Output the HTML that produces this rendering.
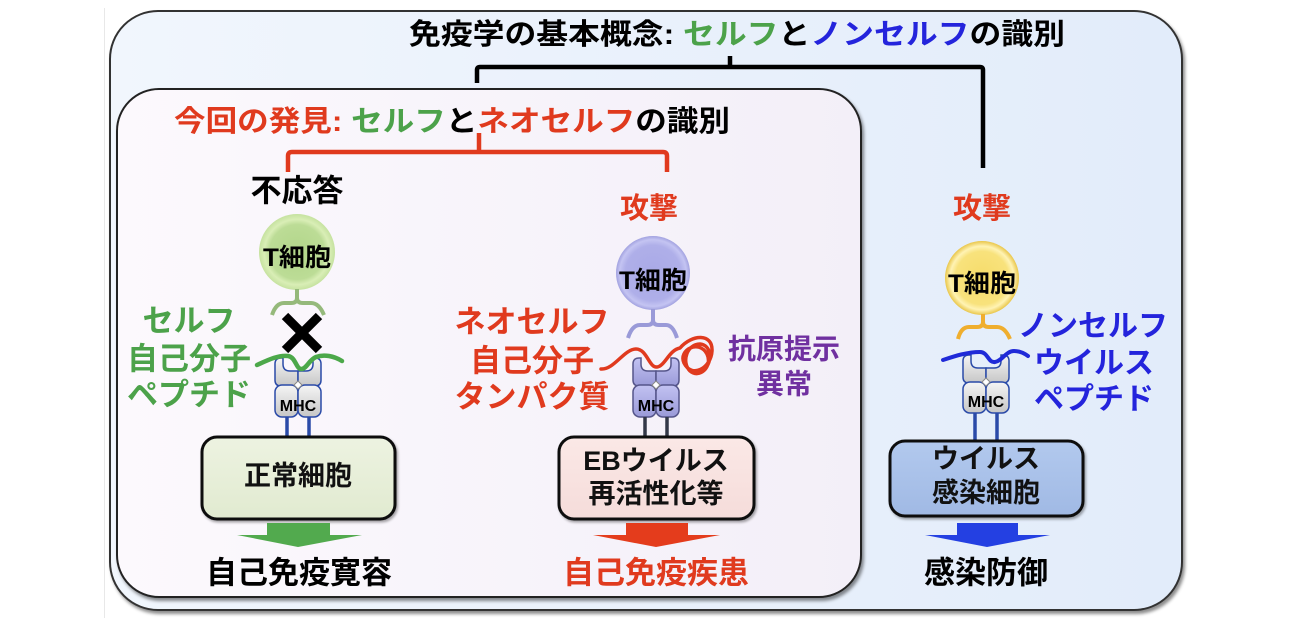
<!DOCTYPE html>
<html><head><meta charset="utf-8">
<style>
html,body{margin:0;padding:0;background:#fff;}
svg{display:block;}
text{font-family:"Liberation Sans","Noto Sans CJK JP",sans-serif;font-weight:bold;}
</style></head>
<body>
<svg width="1300" height="628" viewBox="0 0 1300 628" xmlns="http://www.w3.org/2000/svg">
<defs>
  <linearGradient id="outerG" x1="0" y1="0" x2="1" y2="0">
    <stop offset="0" stop-color="#f1f6fd"/>
    <stop offset="1" stop-color="#e2ecfa"/>
  </linearGradient>
  <linearGradient id="innerG" x1="0" y1="0" x2="1" y2="0">
    <stop offset="0" stop-color="#fcf9fd"/>
    <stop offset="1" stop-color="#f3eff8"/>
  </linearGradient>
  <radialGradient id="gG" cx="0.5" cy="0.5" r="0.5">
    <stop offset="0" stop-color="#b2d68a"/>
    <stop offset="0.72" stop-color="#bcdc96"/>
    <stop offset="0.86" stop-color="#d9eeb6"/>
    <stop offset="1" stop-color="#c6e2a0"/>
  </radialGradient>
  <radialGradient id="pG" cx="0.5" cy="0.5" r="0.5">
    <stop offset="0" stop-color="#a9a9e6"/>
    <stop offset="0.75" stop-color="#afafe9"/>
    <stop offset="0.9" stop-color="#c4c4f2"/>
    <stop offset="1" stop-color="#a2a2e0"/>
  </radialGradient>
  <radialGradient id="yG" cx="0.5" cy="0.5" r="0.5">
    <stop offset="0" stop-color="#f6dc6a"/>
    <stop offset="0.72" stop-color="#f8e27c"/>
    <stop offset="0.86" stop-color="#fff3b4"/>
    <stop offset="1" stop-color="#e9c64a"/>
  </radialGradient>
  <linearGradient id="mhcGray" x1="0" y1="0" x2="0" y2="1">
    <stop offset="0" stop-color="#f5f5f5"/>
    <stop offset="1" stop-color="#c6c6c6"/>
  </linearGradient>
  <linearGradient id="mhcPur" x1="0" y1="0" x2="0" y2="1">
    <stop offset="0" stop-color="#c2c2f2"/>
    <stop offset="1" stop-color="#9a9ad8"/>
  </linearGradient>
  <linearGradient id="boxG" x1="0" y1="0" x2="0" y2="1">
    <stop offset="0" stop-color="#edf3e1"/>
    <stop offset="1" stop-color="#e1ead0"/>
  </linearGradient>
  <linearGradient id="boxR" x1="0" y1="0" x2="0" y2="1">
    <stop offset="0" stop-color="#fbe8e6"/>
    <stop offset="1" stop-color="#f5dcda"/>
  </linearGradient>
  <linearGradient id="boxB" x1="0" y1="0" x2="0" y2="1">
    <stop offset="0" stop-color="#b2c9ee"/>
    <stop offset="1" stop-color="#a0b9e4"/>
  </linearGradient>
  <filter id="sh" x="-10%" y="-10%" width="120%" height="120%">
    <feDropShadow dx="2" dy="3" stdDeviation="1.5" flood-color="#000" flood-opacity="0.45"/>
  </filter>
  <filter id="shs" x="-10%" y="-10%" width="120%" height="120%">
    <feDropShadow dx="1.5" dy="2" stdDeviation="1.2" flood-color="#000" flood-opacity="0.35"/>
  </filter>
</defs>

<line x1="104.5" y1="8" x2="104.5" y2="618" stroke="#e8e8e8" stroke-width="1"/>

<rect x="110" y="11" width="1072" height="599" rx="48" fill="url(#outerG)" stroke="#333" stroke-width="2" filter="url(#sh)"/>
<rect x="117" y="89" width="744" height="508" rx="42" fill="url(#innerG)" stroke="#222" stroke-width="2" filter="url(#sh)"/>

<text x="409" y="44" font-size="29" textLength="656" lengthAdjust="spacingAndGlyphs" fill="#000">免疫学の基本概念: <tspan fill="#4ca24a">セルフ</tspan>と<tspan fill="#2424dc">ノンセルフ</tspan>の識別</text>

<path d="M477 83 L477 70 Q477 67 480 67 L980 67 Q983 67 983 70 L983 168" fill="none" stroke="#000" stroke-width="4.5"/>
<line x1="730" y1="56" x2="730" y2="67" stroke="#000" stroke-width="4.5"/>

<text x="174" y="131" font-size="29" textLength="556" lengthAdjust="spacingAndGlyphs" fill="#e03a1e">今回の発見: <tspan fill="#4ca24a">セルフ</tspan><tspan fill="#000">と</tspan>ネオセルフ<tspan fill="#000">の識別</tspan></text>

<path d="M288 172 L288 156 Q288 152 292 152 L663 152 Q667 152 667 156 L667 172" fill="none" stroke="#e03a1e" stroke-width="4.5"/>
<line x1="479" y1="133" x2="479" y2="152" stroke="#e03a1e" stroke-width="4.5"/>

<text x="297" y="201.5" font-size="31" text-anchor="middle" fill="#000">不応答</text>
<text x="649" y="218" font-size="29" text-anchor="middle" fill="#e03a1e">攻撃</text>
<text x="982" y="218" font-size="29" text-anchor="middle" fill="#e03a1e">攻撃</text>

<circle cx="297" cy="252" r="38" fill="url(#gG)"/>
<text x="297" y="266" font-size="25" text-anchor="middle" textLength="68" lengthAdjust="spacingAndGlyphs" fill="#000">T細胞</text>
<circle cx="653" cy="273" r="37" fill="url(#pG)"/>
<text x="653" y="289" font-size="25" text-anchor="middle" textLength="68" lengthAdjust="spacingAndGlyphs" fill="#000">T細胞</text>
<circle cx="982" cy="278" r="37" fill="url(#yG)"/>
<text x="982" y="292" font-size="25" text-anchor="middle" textLength="68" lengthAdjust="spacingAndGlyphs" fill="#000">T細胞</text>

<path d="M297 289 L297 298 Q297 303 291 303 L284 303 Q276 303 272 315 M297 298 Q297 303 303 303 L311 303 Q319 303 324 315" fill="none" stroke="#95b97b" stroke-width="4"/>
<path d="M653 309 L653 320 Q653 325 647 325 L640 325 Q632 325 628 338 M653 320 Q653 325 659 325 L666 325 Q673 325 677 338" fill="none" stroke="#9a9ad8" stroke-width="4"/>
<path d="M983 314 L983 322 Q983 327 977 327 L969 327 Q961 327 958 339 M983 322 Q983 327 989 327 L997 327 Q1005 327 1010 339" fill="none" stroke="#efae2e" stroke-width="4"/>

<g stroke="#000" stroke-width="9" stroke-linecap="butt">
  <line x1="285" y1="316" x2="319" y2="350"/>
  <line x1="319" y1="316" x2="285" y2="350"/>
</g>

<g transform="translate(298,358)" stroke="#2a4aa8" stroke-width="1.5" fill="url(#mhcGray)">
  <path d="M-23 6 Q-23 0 -17 0 L-15 0 L-15 6 Q-15 13 -8 13 L0 13 L0 28 L-17 28 Q-23 28 -23 22 Z"/>
  <path d="M23 6 Q23 0 17 0 L15 0 L15 6 Q15 13 8 13 L0 13 L0 28 L17 28 Q23 28 23 22 Z"/>
  <rect x="-23" y="27" width="23" height="32" rx="7"/>
  <rect x="0" y="27" width="23" height="32" rx="7"/>
  <polygon points="0,23 4,27 0,31 -4,27" fill="#fff" stroke="#888" stroke-width="1"/>
  <text x="0" y="53" font-size="16" text-anchor="middle" fill="#000" stroke="none">MHC</text>
</g>
<line x1="287" y1="417" x2="287" y2="438" stroke="#2a4aa8" stroke-width="3.5"/>
<line x1="309" y1="417" x2="309" y2="438" stroke="#2a4aa8" stroke-width="3.5"/>

<g transform="translate(656,358)" stroke="#55558a" stroke-width="1.5" fill="url(#mhcPur)">
  <path d="M-23 6 Q-23 0 -17 0 L-15 0 L-15 6 Q-15 13 -8 13 L0 13 L0 28 L-17 28 Q-23 28 -23 22 Z"/>
  <path d="M23 6 Q23 0 17 0 L15 0 L15 6 Q15 13 8 13 L0 13 L0 28 L17 28 Q23 28 23 22 Z"/>
  <rect x="-23" y="27" width="23" height="32" rx="7"/>
  <rect x="0" y="27" width="23" height="32" rx="7"/>
  <polygon points="0,23 4,27 0,31 -4,27" fill="#fff" stroke="#888" stroke-width="1"/>
  <text x="0" y="53" font-size="16" text-anchor="middle" fill="#000" stroke="none">MHC</text>
</g>
<line x1="645" y1="417" x2="645" y2="438" stroke="#333848" stroke-width="3.5"/>
<line x1="667" y1="417" x2="667" y2="438" stroke="#333848" stroke-width="3.5"/>

<g transform="translate(986,355)" stroke="#2a4aa8" stroke-width="1.5" fill="url(#mhcGray)">
  <path d="M-23 6 Q-23 0 -17 0 L-15 0 L-15 6 Q-15 13 -8 13 L0 13 L0 28 L-17 28 Q-23 28 -23 22 Z"/>
  <path d="M23 6 Q23 0 17 0 L15 0 L15 6 Q15 13 8 13 L0 13 L0 28 L17 28 Q23 28 23 22 Z"/>
  <rect x="-23" y="27" width="23" height="31" rx="7"/>
  <rect x="0" y="27" width="23" height="31" rx="7"/>
  <polygon points="0,23 4,27 0,31 -4,27" fill="#fff" stroke="#888" stroke-width="1"/>
  <text x="0" y="52" font-size="16" text-anchor="middle" fill="#000" stroke="none">MHC</text>
</g>
<line x1="975" y1="413" x2="975" y2="442" stroke="#2a4aa8" stroke-width="3.5"/>
<line x1="997" y1="413" x2="997" y2="442" stroke="#2a4aa8" stroke-width="3.5"/>

<path d="M257 365 C268 360 278 355 288 356 C296 357 296 370 302 369 C307 368 309 360 316 357 C324 354 334 356 342 361" fill="none" stroke="#4ca84a" stroke-width="4.5" stroke-linecap="round"/>
<path d="M601 369 C614 370 624 349 636 349 C647 349 649 368 657 367 C665 366 669 350 680 348 C692 334 713 333 712 351 C711 368 692 379 684 363 C678 350 699 339 707 354 C713 367 699 379 690 371 C681 362 687 344 700 344 C711 345 713 360 705 369" fill="none" stroke="#e03a1e" stroke-width="3.5" stroke-linecap="round" stroke-linejoin="round"/>
<path d="M943 360 C955 356 967 352 980 352 C988 352 988 363 995 362 C1002 361 1006 351 1014 351 C1020 351 1024 353 1028 356" fill="none" stroke="#1f2ad8" stroke-width="4" stroke-linecap="round"/>

<g font-size="31" text-anchor="middle" fill="#4ca24a">
  <text x="189" y="331.5">セルフ</text>
  <text x="189" y="369.5">自己分子</text>
  <text x="189" y="405.5">ペプチド</text>
</g>
<g font-size="31" text-anchor="middle" fill="#e03a1e">
  <text x="532" y="332.5">ネオセルフ</text>
  <text x="532" y="371.5">自己分子</text>
  <text x="532" y="407.5">タンパク質</text>
</g>
<g font-size="28" text-anchor="middle" fill="#7030a0">
  <text x="784" y="358.5">抗原提示</text>
  <text x="784" y="393.5">異常</text>
</g>
<g font-size="30" text-anchor="middle" fill="#2424dc">
  <text x="1093" y="336">ノンセルフ</text>
  <text x="1094" y="373">ウイルス</text>
  <text x="1094" y="409">ペプチド</text>
</g>

<rect x="202" y="437" width="193" height="82" rx="15" fill="url(#boxG)" stroke="#111" stroke-width="3" filter="url(#shs)"/>
<text x="298" y="485" font-size="27" text-anchor="middle" fill="#111">正常細胞</text>

<rect x="559" y="437" width="195" height="82" rx="15" fill="url(#boxR)" stroke="#111" stroke-width="3" filter="url(#shs)"/>
<text x="656" y="470" font-size="27" text-anchor="middle" fill="#111">EBウイルス</text>
<text x="656" y="503" font-size="27" text-anchor="middle" fill="#111">再活性化等</text>

<rect x="890" y="441" width="193" height="75" rx="15" fill="url(#boxB)" stroke="#111" stroke-width="3" filter="url(#shs)"/>
<text x="986" y="468" font-size="27" text-anchor="middle" fill="#111">ウイルス</text>
<text x="986" y="502" font-size="27" text-anchor="middle" fill="#111">感染細胞</text>

<polygon points="267,523 330,523 330,535 362,535 298,547 237,535 267,535" fill="#52aa4e"/>
<polygon points="626,523 688,523 688,535 720,535 656,547 593,535 626,535" fill="#e43c1c"/>
<polygon points="957,523 1018,523 1018,535 1050,535 987,547 925,535 957,535" fill="#2440e2"/>

<text x="299" y="583.5" font-size="31" text-anchor="middle" fill="#000">自己免疫寛容</text>
<text x="656" y="583.5" font-size="31" text-anchor="middle" fill="#e03a1e">自己免疫疾患</text>
<text x="986" y="583.5" font-size="31" text-anchor="middle" fill="#000">感染防御</text>
</svg>
</body></html>
